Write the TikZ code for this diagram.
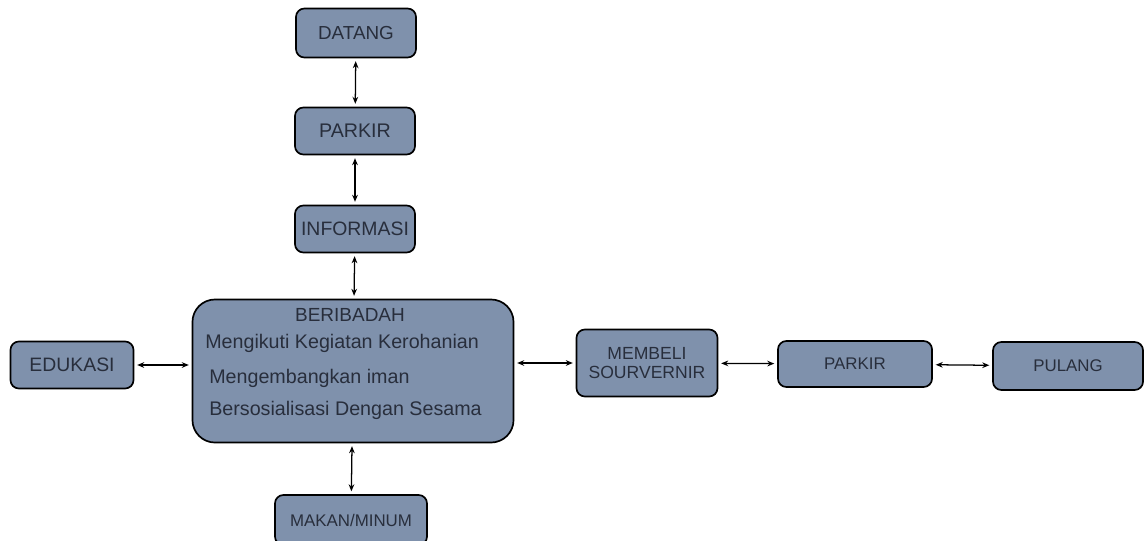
\documentclass[tikz,border=0pt]{standalone}
\usepackage{fontspec}
\setmainfont{Liberation Sans}
\usetikzlibrary{arrows.meta}
\definecolor{boxfill}{RGB}{127,145,172}
\definecolor{boxtext}{RGB}{40,46,60}
\newcommand{\fsz}[1]{\fontsize{#1}{#1}\selectfont}
\begin{document}
\begin{tikzpicture}[x=0.025cm, y=-0.025cm,
    box/.style={draw=black, line width=1.2pt, rounded corners=6pt, fill=boxfill,
      text=boxtext, font=\fsz{12}, align=center, inner sep=1pt},
    isi/.style={text=boxtext, font=\fsz{14}, anchor=west, inner sep=0pt},
    link/.style={{Stealth[length=5pt,width=4pt]}-{Stealth[length=5pt,width=4pt]}, line width=0.9pt, shorten <=2pt, shorten >=2pt}]
      \path[use as bounding box] (0, 0) rectangle (1144, 540);

      % vertical chain
      \node[box, minimum width=3cm, minimum height=1.225cm, font=\fsz{13.4}] (datang) at (356, 33) {DATANG};
      \node[box, minimum width=3cm, minimum height=1.175cm, font=\fsz{14}] (parkir_a) at (355, 131) {PARKIR};
      \node[box, minimum width=3cm, minimum height=1.175cm, font=\fsz{13.8}] (informasi) at (355, 229) {INFORMASI};

      % main box
      \node[box, rounded corners=16pt, minimum width=8.025cm, minimum height=3.575cm] (ibadah) at (353, 371) {};
      \node[text=boxtext, font=\fsz{13.5}] (judul) at (350, 315) {BERIBADAH};
      \node[isi] (keg_1) at (205, 343) {Mengikuti Kegiatan Kerohanian};
      \node[isi] (keg_2) at (209, 378) {Mengembangkan iman};
      \node[isi] (keg_3) at (209, 410) {Bersosialisasi Dengan Sesama};

      \node[box, minimum width=3.075cm, minimum height=1.175cm, font=\fsz{13.8}] (edukasi) at (72, 365) {EDUKASI};
      \node[box, minimum width=3.8cm, minimum height=1.25cm] (makan) at (351, 520) {MAKAN/MINUM};

      % horizontal chain
      \node[box, minimum width=3.525cm, minimum height=1.675cm, font=\fsz{12.5}] (membeli) at (647, 363) {MEMBELI\\[1pt]SOURVERNIR};
      \node[box, minimum width=3.85cm, minimum height=1.15cm] (parkir_b) at (855, 364) {PARKIR};
      \node[box, minimum width=3.75cm, minimum height=1.2cm] (pulang) at (1068, 366) {PULANG};

      % arrows
      \draw[link] (datang) -- (parkir_a);
      \draw[link] (parkir_a) -- (informasi);
      \draw[link] (informasi) -- (ibadah);
      \draw[link] (ibadah) -- (makan);
      \draw[link] (edukasi.east) -- (edukasi.east -| ibadah.west);
      \draw[link] (ibadah.east |- membeli.west) -- (membeli.west);
      \draw[link] (membeli) -- (parkir_b);
      \draw[link] (parkir_b) -- (pulang);
    \end{tikzpicture}
\end{document}
